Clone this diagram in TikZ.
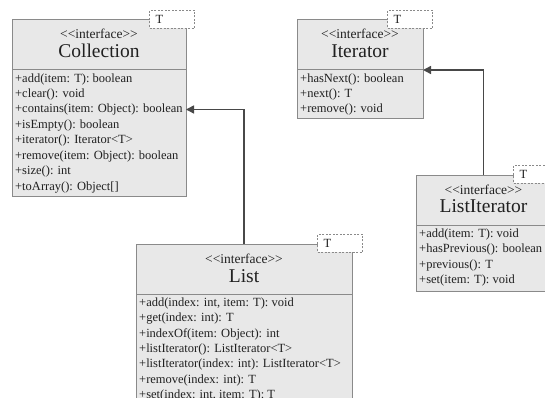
\documentclass[tikz,border=0pt]{standalone}
\usepackage{fontspec}
\newfontfamily\umlfont{Liberation Serif}
\usetikzlibrary{positioning}
\usetikzlibrary{arrows.meta}

\definecolor{boxfill}{HTML}{E8E8E8}
\definecolor{boxline}{HTML}{8A8A8A}
\definecolor{linkline}{HTML}{484848}
\definecolor{umltext}{HTML}{202020}

\tikzset{
 classhead/.style={draw=boxline, fill=boxfill, line width=1pt, anchor=north west, minimum height=50pt, inner sep=0pt, outer sep=0pt},
 classbody/.style={draw=boxline, fill=boxfill, line width=1pt, inner sep=0pt, outer sep=0pt},
 stereo/.style={anchor=base, inner sep=0pt, text=umltext, font=\umlfont\fontsize{13.5}{16}\selectfont},
 cname/.style={anchor=base, inner sep=0pt, text=umltext, font=\umlfont\fontsize{19.5}{22}\selectfont},
 method/.style={anchor=north west, inner sep=0pt, text height=11pt, text depth=4pt, text=umltext, font=\umlfont\fontsize{12.5}{15}\selectfont},
 tparam/.style={draw=boxline, fill=white, line width=1.2pt, dash pattern=on 2pt off 1.5pt, anchor=south west, minimum height=18pt, text width=33pt, inner xsep=6pt, inner ysep=0pt, text=umltext, font=\umlfont\fontsize{12.5}{15}\selectfont},
 realize/.style={draw=linkline, line width=1.5pt, -{Triangle[length=8pt,width=8pt]}}
}

\begin{document}
\begin{tikzpicture}[x=1pt, y=-1pt]
 \clip (0,0) rectangle (545,398);

 % Collection
 \node[classhead, minimum width=174pt, name=collection] at (12,20) {};
 \node[classbody, minimum width=174pt, minimum height=126pt, below=0pt of collection, name=collection-body] {};
 \node[stereo, name=collection-st] at ([yshift=-19pt]collection.north) {<<interface>>};
 \node[cname, name=collection-nm] at ([yshift=-38pt]collection.north) {Collection};
 \node[method, name=collection-1] at ([xshift=3pt, yshift=-1pt]collection-body.north west) {+add(item: T): boolean};
 \node[method, name=collection-2] at (collection-1.south west) {+clear(): void};
 \node[method, name=collection-3] at (collection-2.south west) {+contains(item: Object): boolean};
 \node[method, name=collection-4] at (collection-3.south west) {+isEmpty(): boolean};
 \node[method, name=collection-5] at (collection-4.south west) {+iterator(): Iterator<T>};
 \node[method, name=collection-6] at (collection-5.south west) {+remove(item: Object): boolean};
 \node[method, name=collection-7] at (collection-6.south west) {+size(): int};
 \node[method, name=collection-8] at (collection-7.south west) {+toArray(): Object[]};
 \node[tparam, name=collection-t] at ([shift={(-37pt,-9pt)}]collection.north east) {T};

 % Iterator
 \node[classhead, minimum width=126pt, name=iterator] at (297,20) {};
 \node[classbody, minimum width=126pt, minimum height=49pt, below=0pt of iterator, name=iterator-body] {};
 \node[stereo, name=iterator-st] at ([yshift=-19pt]iterator.north) {<<interface>>};
 \node[cname, name=iterator-nm] at ([yshift=-38pt]iterator.north) {Iterator};
 \node[method, name=iterator-1] at ([xshift=3pt, yshift=-1pt]iterator-body.north west) {+hasNext(): boolean};
 \node[method, name=iterator-2] at (iterator-1.south west) {+next(): T};
 \node[method, name=iterator-3] at (iterator-2.south west) {+remove(): void};
 \node[tparam, name=iterator-t] at ([shift={(-36pt,-9pt)}]iterator.north east) {T};

 % ListIterator
 \node[classhead, minimum width=135pt, name=listiter] at (416,175) {};
 \node[classbody, minimum width=135pt, minimum height=66pt, below=0pt of listiter, name=listiter-body] {};
 \node[stereo, name=listiter-st] at ([yshift=-19pt]listiter.north) {<<interface>>};
 \node[cname, name=listiter-nm] at ([yshift=-37pt]listiter.north) {ListIterator};
 \node[method, name=listiter-1] at ([xshift=3pt, yshift=-1pt]listiter-body.north west) {+add(item: T): void};
 \node[method, name=listiter-2] at (listiter-1.south west) {+hasPrevious(): boolean};
 \node[method, name=listiter-3] at (listiter-2.south west) {+previous(): T};
 \node[method, name=listiter-4] at (listiter-3.south west) {+set(item: T): void};
 \node[tparam, name=listiter-t] at ([shift={(-38pt,-9pt)}]listiter.north east) {T};

 % List
 \node[classhead, minimum width=216pt, name=list] at (136,244) {};
 \node[classbody, minimum width=216pt, minimum height=127pt, below=0pt of list, name=list-body] {};
 \node[stereo, name=list-st] at ([yshift=-19pt]list.north) {<<interface>>};
 \node[cname, name=list-nm] at ([yshift=-38pt]list.north) {List};
 \node[method, name=list-1] at ([xshift=3pt, yshift=-1pt]list-body.north west) {+add(index: int, item: T): void};
 \node[method, name=list-2] at (list-1.south west) {+get(index: int): T};
 \node[method, name=list-3] at (list-2.south west) {+indexOf(item: Object): int};
 \node[method, name=list-4] at (list-3.south west) {+listIterator(): ListIterator<T>};
 \node[method, name=list-5] at (list-4.south west) {+listIterator(index: int): ListIterator<T>};
 \node[method, name=list-6] at (list-5.south west) {+remove(index: int): T};
 \node[method, name=list-7] at (list-6.south west) {+set(index: int, item: T): T};
 \node[tparam, name=list-t] at ([shift={(-35pt,-9pt)}]list.north east) {T};

 \draw[realize] (list.north) |- (collection-3 -| collection-body.east);
 \draw[realize] (listiter.north) |- (iterator.south east);
\end{tikzpicture}
\end{document}
